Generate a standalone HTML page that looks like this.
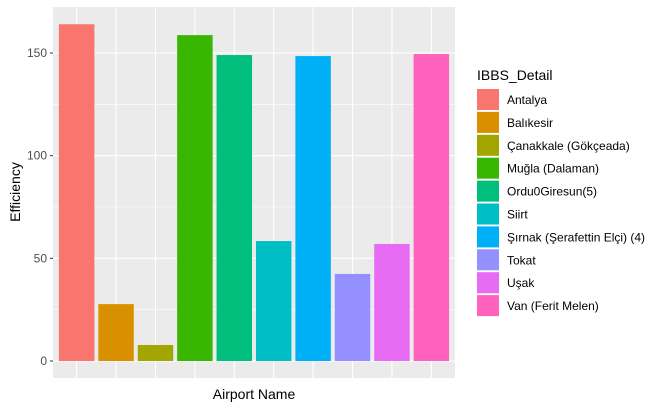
<!DOCTYPE html>
<html><head><meta charset="utf-8"><style>
body{margin:0;background:#fff;font-family:"Liberation Sans",Arial,sans-serif}
svg text{font-family:"Liberation Sans",Arial,sans-serif}
</style></head><body>
<svg id="chart" width="661" height="408">
<rect x="53" y="7" width="402" height="371" fill="#ebebeb"/>
<g id="grid"></g><g id="bars"></g><g id="axes"></g><g id="legend"></g>
<text x="254" y="399" font-size="14" text-anchor="middle">Airport Name</text>
<text transform="translate(20,192) rotate(-90)" font-size="14" text-anchor="middle">Efficiency</text>
<text x="477" y="80" font-size="14">IBBS_Detail</text>
</svg>
<script>
const categories=["Antalya","Balıkesir","Çanakkale (Gökçeada)","Muğla (Dalaman)","Ordu0Giresun(5)","Siirt","Şırnak (Şerafettin Elçi) (4)","Tokat","Uşak","Van (Ferit Melen)"];
const values=[164,27.7,7.8,158.7,149,58.4,148.5,42.4,57,149.5];
const colors=["#F8766D","#D89000","#A3A500","#39B600","#00BF7D","#00BFC4","#00B0F6","#9590FF","#E76BF3","#FF62BC"];
const yTicks=[0,50,100,150];
const NS="http://www.w3.org/2000/svg";
const L=53,R=455,T=7,B=378;
const y0=361,pxPerUnit=(361-53)/150;
const yS=v=>y0-v*pxPerUnit;
const band=(R-L)/(categories.length+0.2);
const xS=i=>L+band*(0.6+i);
function mk(tag,attrs,parent){const e=document.createElementNS(NS,tag);for(const k in attrs)e.setAttribute(k,attrs[k]);parent.appendChild(e);return e;}
const grid=document.getElementById('grid'),bars=document.getElementById('bars'),axes=document.getElementById('axes'),leg=document.getElementById('legend');
for(let v=-25;v<=175;v+=25){const y=yS(v);if(y<T||y>B)continue;
 const major=v%50===0;
 const g=mk('line',{x1:L,x2:R,y1:y,y2:y,stroke:'#fff','stroke-width':major?1.1:0.55},grid);
 
 }
categories.forEach((c,i)=>{const x=xS(i);
 const g=mk('line',{x1:x,x2:x,y1:T,y2:B,stroke:'#fff','stroke-width':1.1},grid);
 
 
 const w=band*0.9;
 const r=mk('rect',{x:x-w/2,y:yS(values[i]),width:w,height:y0-yS(values[i]),fill:colors[i]},bars);
 
 
 const ky=89+i*22.9;
 const k=mk('rect',{x:477,y:ky,width:22,height:21,fill:colors[i]},leg);
 
 
 const lt=mk('text',{x:507,y:ky+15,'font-size':12,fill:'#000'},leg);
 lt.textContent=c;
 
 
});
yTicks.forEach(v=>{const y=yS(v);
 const t=mk('line',{x1:L-3,x2:L,y1:y,y2:y,stroke:'#333','stroke-width':1},axes);
 
 
 const l=mk('text',{x:L-6,y:y+4,'font-size':12,'text-anchor':'end',fill:'#4d4d4d'},axes);
 l.textContent=v;
 
 
});
</script>
</body></html>
